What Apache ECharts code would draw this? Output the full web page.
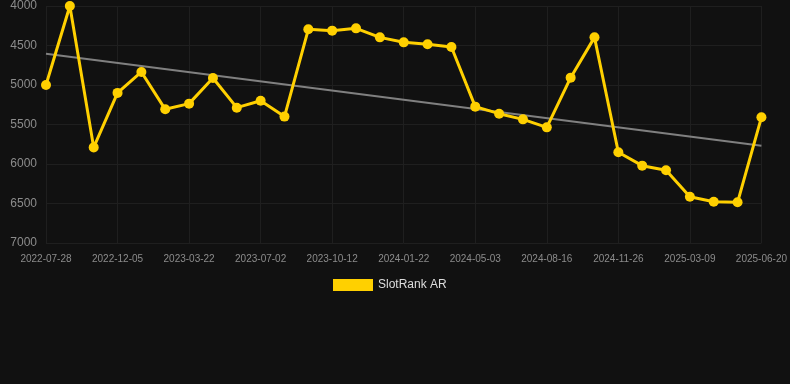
<!DOCTYPE html>
<html>
<head>
<meta charset="utf-8">
<script src="https://cdn.jsdelivr.net/npm/echarts@6/dist/echarts.min.js"></script>
<style>
html,body{margin:0;padding:0;background:#111111;}
#chart{width:790px;height:384px;}
</style>
</head>
<body>
<div id="chart"></div>
<script>
const categories = [
  "2022-07-28","2022-09-10","2022-10-23","2022-12-05","2023-01-10","2023-02-15",
  "2023-03-22","2023-04-25","2023-05-29","2023-07-02","2023-08-05","2023-09-08",
  "2023-10-12","2023-11-14","2023-12-18","2024-01-22","2024-02-25","2024-03-30",
  "2024-05-03","2024-06-06","2024-07-11","2024-08-16","2024-09-19","2024-10-23",
  "2024-11-26","2024-12-30","2025-02-02","2025-03-09","2025-04-12","2025-05-16",
  "2025-06-20"
];
const rankValues = [
  5000, 4000, 5790, 5100, 4835, 5308, 5236, 4911, 5287, 5200,
  5400, 4295, 4312, 4283, 4397, 4460, 4485, 4519, 5274, 5363,
  5435, 5536, 4907, 4397, 5852, 6021, 6080, 6414, 6477, 6485,
  5409
];
const trendStart = 4604;
const trendEnd = 5768;
const yTicks = [4000, 4500, 5000, 5500, 6000, 6500, 7000];

const trendData = categories.map((c, i) =>
  i === 0 ? trendStart : (i === categories.length - 1 ? trendEnd : null));

const chart = echarts.init(document.getElementById('chart'));
chart.setOption({
  backgroundColor: '#111111',
  animation: false,
  grid: { left: 46, right: 28, top: 6, bottom: 141 },
  legend: {
    top: 274,
    left: 328,
    itemWidth: 40,
    itemHeight: 12,
    icon: 'rect',
    data: ['SlotRank AR'],
    textStyle: { color: '#dddddd', fontSize: 12, fontFamily: 'Arial, Liberation Sans, sans-serif' }
  },
  xAxis: {
    type: 'category',
    data: categories,
    boundaryGap: false,
    axisLine: { show: false },
    axisTick: { show: false },
    axisLabel: {
      interval: 2,
      color: '#8c8c8c',
      fontSize: 10,
      margin: 11,
      fontFamily: 'Arial, Liberation Sans, sans-serif'
    },
    splitLine: { show: true, interval: 2, lineStyle: { color: '#1f1f1f', width: 1 } }
  },
  yAxis: {
    type: 'value',
    inverse: true,
    min: yTicks[0],
    max: yTicks[yTicks.length - 1],
    interval: 500,
    axisLine: { show: false },
    axisTick: { show: false },
    axisLabel: {
      color: '#8c8c8c',
      fontSize: 12,
      margin: 9,
      formatter: function (v) { return String(v); },
      fontFamily: 'Arial, Liberation Sans, sans-serif'
    },
    splitLine: { lineStyle: { color: '#1f1f1f', width: 1 } }
  },
  series: [
    {
      name: 'SlotRank AR',
      type: 'line',
      data: rankValues,
      symbol: 'circle',
      symbolSize: 10,
      itemStyle: { color: '#ffd000' },
      lineStyle: { color: '#ffd000', width: 3 },
      z: 3
    },
    {
      name: 'Trend',
      type: 'line',
      data: trendData,
      connectNulls: true,
      symbol: 'none',
      lineStyle: { color: '#808080', width: 2 },
      itemStyle: { color: '#808080' },
      z: 2
    }
  ]
});
</script>
</body>
</html>
